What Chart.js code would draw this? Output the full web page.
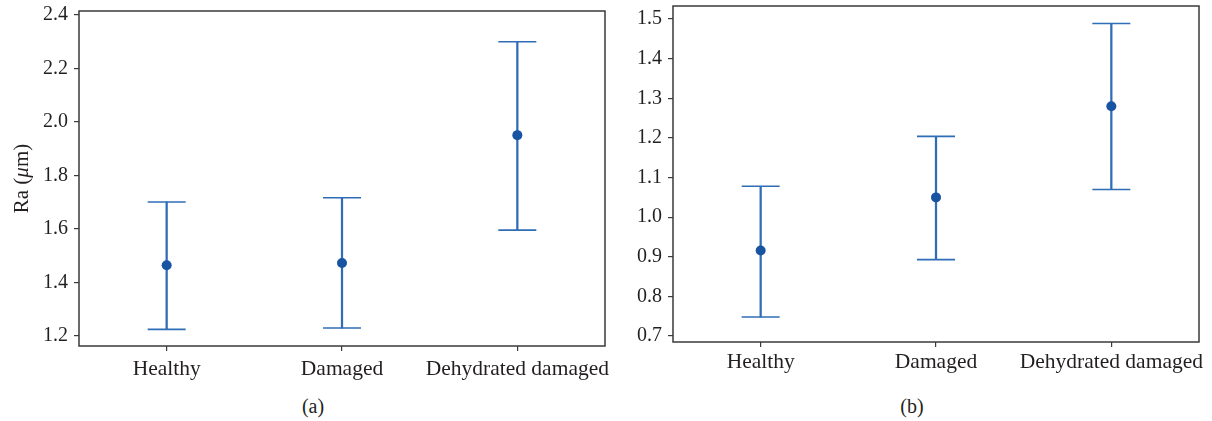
<!DOCTYPE html>
<html>
<head>
<meta charset="utf-8">
<script src="https://cdn.jsdelivr.net/npm/chart.js@4.4.1/dist/chart.umd.min.js"></script>
<style>
    body { margin: 0; background: #fff; width: 1212px; height: 421px; position: relative; overflow: hidden; }
    .panel { position: absolute; top: 0; height: 395px; }
    .caption { position: absolute; top: 395px; font: 20px 'Liberation Serif', serif; color: #231f20; transform: translateX(-50%); }
</style>
</head>
<body>
<div class="panel" style="left:0; width:615px;"><canvas id="chartA"></canvas></div>
<div class="panel" style="left:615px; width:597px;"><canvas id="chartB"></canvas></div>
<div class="caption" style="left:313px;">(a)</div>
<div class="caption" style="left:912px;">(b)</div>

<script>
// Kategorije
const groups = ['Healthy', 'Damaged', 'Dehydrated damaged'];

// (a) Ra vrijednosti
const meanA = [1.465, 1.473, 1.951];
const lowA = [1.225, 1.230, 1.596];
const highA = [1.701, 1.717, 2.300];
const ticksA = [1.2, 1.4, 1.6, 1.8, 2.0, 2.2, 2.4];

// (b)
const meanB = [0.916, 1.050, 1.280];
const lowB = [0.748, 0.893, 1.070];
const highB = [1.078, 1.204, 1.489];
const ticksB = [0.7, 0.8, 0.9, 1.0, 1.1, 1.2, 1.3, 1.4, 1.5];

const lineBlue = '#2f6db6';
const dotBlue = '#1854a2';
const axisGrey = '#3a3a3a';
const textCol = '#231f20';
const serif = "'Liberation Serif', serif";

// Okvir oko podrucja grafa
const frame = {
    id: 'frame',
    afterDraw(chart) {
        const a = chart.chartArea, ctx = chart.ctx;
        ctx.save();
        ctx.strokeStyle = axisGrey;
        ctx.lineWidth = 1.5;
        ctx.strokeRect(a.left, a.top, a.right - a.left, a.bottom - a.top);
        ctx.restore();
    }
};

// Naslov y osi s kurzivnim mu
const yTitle = {
    id: 'yTitle',
    afterDraw(chart) {
        if (chart.canvas.id !== 'chartA') return;
        const a = chart.chartArea, ctx = chart.ctx;
        const parts = [['Ra (', 'normal'], ['\u03bc', 'italic'], ['m)', 'normal']];
        ctx.save();
        ctx.translate(22, (a.top + a.bottom) / 2);
        ctx.rotate(-Math.PI / 2);
        ctx.fillStyle = textCol;
        ctx.textBaseline = 'middle';
        let total = 0;
        parts.forEach(p => { ctx.font = p[1] + ' 21px ' + serif; total += ctx.measureText(p[0]).width; });
        let x = -total / 2;
        parts.forEach(p => {
            ctx.font = p[1] + ' 21px ' + serif;
            ctx.fillText(p[0], x, 0);
            x += ctx.measureText(p[0]).width;
        });
        ctx.restore();
    }
};

function makeChart(id, mean, low, high, ticks, box) {
    const ranges = low.map((v, i) => [v, high[i]]);
    return new Chart(document.getElementById(id), {
        type: 'bar',
        data: {
            labels: groups,
            datasets: [
                {
                    type: 'line', data: mean, showLine: false,
                    pointStyle: 'circle', pointRadius: 5,
                    pointBackgroundColor: dotBlue, pointBorderColor: dotBlue, pointBorderWidth: 0
                },
                {
                    type: 'line', data: high, showLine: false,
                    pointStyle: 'line', pointRadius: 19,
                    pointBorderColor: lineBlue, pointBorderWidth: 1.6
                },
                {
                    type: 'line', data: low, showLine: false,
                    pointStyle: 'line', pointRadius: 19,
                    pointBorderColor: lineBlue, pointBorderWidth: 1.6
                },
                {
                    data: ranges, backgroundColor: lineBlue,
                    barThickness: 1.6, borderWidth: 0
                }
            ]
        },
        options: {
            responsive: true,
            maintainAspectRatio: false,
            animation: false,
            events: [],
            layout: { autoPadding: false, padding: { top: box.top, right: box.right, left: 0, bottom: 0 } },
            plugins: { legend: { display: false }, tooltip: { enabled: false } },
            scales: {
                x: {
                    offset: true,
                    border: { display: false },
                    grid: { drawOnChartArea: false, drawTicks: true, tickLength: 5, color: axisGrey, lineWidth: 1.2, offset: false },
                    ticks: { color: textCol, font: { family: serif, size: 21.5 }, padding: box.xPad, maxRotation: 0, minRotation: 0, autoSkip: false },
                    afterFit(s) { s.height = box.xHeight; s.paddingLeft = 0; s.paddingRight = 0; }
                },
                y: {
                    min: box.min, max: box.max,
                    border: { display: false },
                    grid: { drawOnChartArea: false, drawTicks: true, tickLength: 5, color: axisGrey, lineWidth: 1.2 },
                    ticks: { color: textCol, font: { family: serif, size: 20, lineHeight: 1 }, padding: 6, callback: v => v.toFixed(1) },
                    afterBuildTicks(s) { s.ticks = ticks.map(v => ({ value: v })); },
                    afterFit(s) { s.width = box.yWidth; s.paddingTop = 0; s.paddingBottom = 0; }
                }
            }
        },
        plugins: [frame, yTitle]
    });
}

makeChart('chartA', meanA, lowA, highA, ticksA,
    { top: 11, right: 10, xHeight: 49, xPad: 5, yWidth: 79, min: 1.163, max: 2.415 });
makeChart('chartB', meanB, lowB, highB, ticksB,
    { top: 6, right: 13, xHeight: 53, xPad: 2, yWidth: 58, min: 0.685, max: 1.533 });
</script>
</body>
</html>
